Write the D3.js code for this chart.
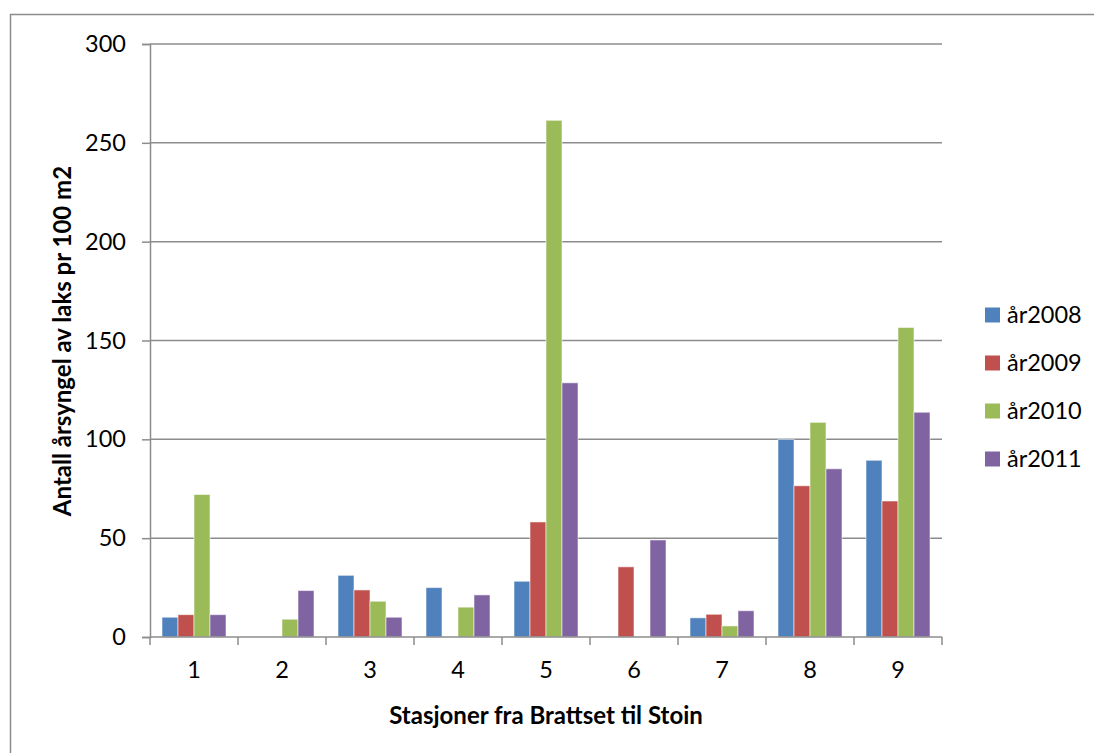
<!DOCTYPE html>
<html>
<head>
<meta charset="utf-8">
<script src="https://cdn.jsdelivr.net/npm/d3@7"></script>
<style>
  html, body { margin: 0; padding: 0; background: #fff; }
  svg { display: block; font-family: Lato, "Open Sans", sans-serif; }
</style>
</head>
<body>
<svg id="chart" width="1094" height="753"></svg>
<script>
// Stations along the river, juvenile salmon per 100 m2 by year
const stations = ["1", "2", "3", "4", "5", "6", "7", "8", "9"];
const seriesNames = ["år2008", "år2009", "år2010", "år2011"];
const y2008 = [10, 0, 31.2, 25, 28.2, 0, 9.7, 100, 89.4];
const y2009 = [11.3, 0, 23.8, 0, 58.2, 35.5, 11.5, 76.5, 68.8];
const y2010 = [72.1, 9, 18.1, 15.1, 261.4, 0, 5.6, 108.6, 156.6];
const y2011 = [11.3, 23.5, 10, 21.3, 128.6, 49.1, 13.3, 85.1, 113.7];
const yTicks = [0, 50, 100, 150, 200, 250, 300];
const colors = ["#4F81BD", "#C0504D", "#9BBB59", "#8064A2"];

const seriesValues = [y2008, y2009, y2010, y2011];
const rows = stations.map((s, i) => ({
  station: s,
  values: seriesNames.map((n, k) => ({ name: n, value: seriesValues[k][i], k }))
}));

const svg = d3.select("#chart");
const gridColor = "#8c8c8c";
const labelSize = 23.5;
const titleSize = 24;

// outer chart frame
svg.append("rect")
  .attr("x", 10.5).attr("y", 14.5)
  .attr("width", 1100).attr("height", 760)
  .attr("fill", "none").attr("stroke", gridColor).attr("stroke-width", 1.5);

const plot = { left: 150, right: 942, top: 44, bottom: 637 };

const x = d3.scaleBand().domain(stations).range([plot.left, plot.right]).padding(0);
const bw = x.bandwidth();
const inner = d3.scaleBand().domain(seriesNames)
  .range([bw * 12 / 88, bw * 76 / 88]).padding(0);
const y = d3.scaleLinear().domain([0, 300]).range([plot.bottom, plot.top]);

// horizontal gridlines
svg.append("g")
  .selectAll("line")
  .data(yTicks.filter(t => t > 0))
  .join("line")
  .attr("x1", plot.left).attr("x2", plot.right)
  .attr("y1", d => y(d)).attr("y2", d => y(d))
  .attr("stroke", gridColor).attr("stroke-width", 1.5);

// bars
const groups = svg.append("g")
  .selectAll("g")
  .data(rows)
  .join("g")
  .attr("transform", d => `translate(${x(d.station)},0)`);

groups.selectAll("rect")
  .data(d => d.values.filter(v => v.value > 0))
  .join("rect")
  .attr("x", d => inner(d.name))
  .attr("width", inner.bandwidth())
  .attr("y", d => y(d.value))
  .attr("height", d => y(0) - y(d.value))
  .attr("fill", d => colors[d.k])
  .attr("stroke", "rgba(255,255,255,0.55)")
  .attr("stroke-width", 1);

// y axis
const yAxis = d3.axisLeft(y).tickValues(yTicks).tickSize(8).tickPadding(16);
const gy = svg.append("g").attr("transform", `translate(${plot.left},0)`).call(yAxis);
gy.select(".domain").attr("stroke", gridColor).attr("stroke-width", 1.5);
gy.selectAll(".tick line").attr("stroke", gridColor).attr("stroke-width", 1.5);
gy.selectAll(".tick text").attr("font-size", labelSize).attr("fill", "#000")
  .attr("font-family", "Lato, 'Open Sans', sans-serif");

// x axis with ticks at band edges
const gx = svg.append("g").attr("transform", `translate(0,${plot.bottom})`);
gx.append("line")
  .attr("x1", plot.left).attr("x2", plot.right)
  .attr("stroke", gridColor).attr("stroke-width", 1.5);
const edges = stations.map(s => x(s)).concat([x(stations[stations.length - 1]) + bw]);
gx.selectAll("line.tk")
  .data(edges)
  .join("line")
  .attr("class", "tk")
  .attr("x1", d => d).attr("x2", d => d)
  .attr("y1", 0).attr("y2", 8)
  .attr("stroke", gridColor).attr("stroke-width", 1.5);
gx.selectAll("text")
  .data(stations)
  .join("text")
  .attr("x", d => x(d) + bw / 2)
  .attr("y", 41)
  .attr("text-anchor", "middle")
  .attr("font-size", labelSize)
  .text(d => d);

// axis titles
svg.append("text")
  .attr("x", 546).attr("y", 724)
  .attr("text-anchor", "middle")
  .attr("font-size", titleSize).attr("font-weight", "bold")
  .text("Stasjoner fra Brattset til Stoin");

svg.append("text")
  .attr("transform", "translate(71,341) rotate(-90)")
  .attr("text-anchor", "middle")
  .attr("font-size", titleSize).attr("font-weight", "bold")
  .text("Antall årsyngel av laks pr 100 m2");

// legend
const legend = svg.append("g")
  .selectAll("g")
  .data(seriesNames)
  .join("g")
  .attr("transform", (d, i) => `translate(985,${315 + i * 48})`);
legend.append("rect")
  .attr("x", 0).attr("y", -7.5)
  .attr("width", 15).attr("height", 15)
  .attr("fill", (d, i) => colors[i]);
legend.append("text")
  .attr("x", 22).attr("y", 0)
  .attr("dy", "0.35em")
  .attr("font-size", labelSize)
  .text(d => d);
</script>
</body>
</html>
